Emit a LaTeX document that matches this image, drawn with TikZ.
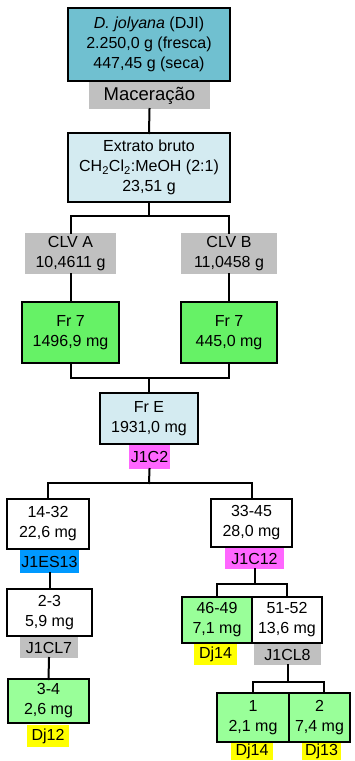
\documentclass[tikz,border=0pt]{standalone}
\usepackage{fontspec}
\setmainfont{Liberation Sans}
\definecolor{cteal}{RGB}{112,192,208}
\definecolor{clblue}{RGB}{212,235,241}
\definecolor{cgreen}{RGB}{102,242,102}
\definecolor{clgreen}{RGB}{153,255,153}
\definecolor{cgrey}{RGB}{192,192,192}
\definecolor{cmag}{RGB}{255,102,255}
\definecolor{cblue}{RGB}{0,153,255}
\definecolor{cyel}{RGB}{255,255,0}
\tikzset{
  base/.style={inner sep=0pt, outer sep=0pt, align=center, font=\fontsize{16}{20}\selectfont},
  box/.style={base, draw=black, line width=2pt},
  tag/.style={base},
  conn/.style={line width=2pt, line cap=rect},
}
% \bx{style}{name}{x1}{y1}{x2}{y2}{text}
\newcommand{\bx}[7]{%
  \pgfmathsetmacro{\bw}{#5-#3}\pgfmathsetmacro{\bh}{#6-#4}%
  \node[#1, minimum width=\bw pt, minimum height=\bh pt] (#2) at ({(#3+#5)/2},{(#4+#6)/2}) {#7};}
\begin{document}
\begin{tikzpicture}[x=1pt,y=-1pt]
\useasboundingbox (0,0) rectangle (354,761);
% nodes
\bx{box,fill=cteal}{top}{68}{8}{230}{81}{\textit{D. jolyana} (DJI)\\2.250,0 g (fresca)\\447,45 g (seca)}
\bx{tag,fill=cgrey,font=\fontsize{18.5}{22}\selectfont}{mac}{89}{82}{210}{109}{Maceração}
\bx{box,fill=clblue}{ext}{68}{133}{230}{202}{Extrato bruto\\CH\textsubscript{2}Cl\textsubscript{2}:MeOH (2:1)\\23,51 g}
\bx{tag,fill=cgrey}{clva}{25}{233}{116}{274}{CLV A\\10,4611 g}
\bx{tag,fill=cgrey}{clvb}{181}{233}{277}{274}{CLV B\\11,0458 g}
\bx{box,fill=cgreen}{fra}{22}{302}{119}{363}{Fr 7\\1496,9 mg}
\bx{box,fill=cgreen}{frb}{181}{302}{277}{363}{Fr 7\\445,0 mg}
\bx{box,fill=clblue}{fre}{100}{393}{198}{444}{Fr E\\1931,0 mg}
\bx{tag,fill=cmag}{j1c2}{129}{445}{170}{469}{J1C2}
\bx{box,fill=white}{n1432}{7}{499}{89}{549}{14-32\\22,6 mg}
\bx{tag,fill=cblue}{j1es13}{20}{550}{79}{573}{J1ES13}
\bx{box,fill=white}{n3345}{211}{499}{292}{547}{33-45\\28,0 mg}
\bx{tag,fill=cmag}{j1c12}{225}{548}{284}{569}{J1C12}
\bx{box,fill=white}{n23}{7}{589}{92}{636}{2-3\\5,9 mg}
\bx{tag,fill=cgrey}{j1cl7}{20}{637}{78}{658}{J1CL7}
\bx{box,fill=clgreen}{n34}{8}{679}{89}{723}{3-4\\2,6 mg}
\bx{tag,fill=cyel}{dj12}{27}{725}{69}{747}{Dj12}
\bx{box,fill=clgreen}{n4649}{182}{597}{252}{643}{46-49\\7,1 mg}
\bx{box,fill=white}{n5152}{252}{597}{322}{643}{51-52\\13,6 mg}
\bx{tag,fill=cyel}{dj14a}{194}{644}{237}{665}{Dj14}
\bx{tag,fill=cgrey}{j1cl8}{254}{644}{321}{665}{J1CL8}
\bx{box,fill=clgreen}{n1}{217}{693}{289}{742}{1\\2,1 mg}
\bx{box,fill=clgreen}{n2}{289}{693}{350}{742}{2\\7,4 mg}
\bx{tag,fill=cyel}{dj14b}{231}{743}{273}{760}{Dj14}
\bx{tag,fill=cyel}{dj13}{302}{743}{341}{760}{Dj13}
% connectors
\coordinate (s1) at (149,216);
\coordinate (s2) at (149,378);
\coordinate (s3) at (149,483);
\coordinate (s4) at (254.5,584);
\coordinate (s5) at (287.5,682);
\draw[conn] (mac.south) -- (ext.north);
\draw[conn] (ext.south) -- (s1);
\draw[conn] (clva.north) |- (s1) -| (clvb.north);
\draw[conn] (clva.south) -- (fra.north);
\draw[conn] (clvb.south) -- (frb.north);
\draw[conn] (fra.south) |- (s2) -| (frb.south);
\draw[conn] (s2) -- (fre.north);
\draw[conn] (j1c2.south) -- (s3);
\draw[conn] (n1432.north) |- (s3) -| (n3345.north);
\draw[conn] (j1es13.south) -- (n23.north);
\draw[conn] (j1cl7.south) -- (n34.north);
\draw[conn] (j1c12.south) -- (s4);
\draw[conn] (n4649.north) |- (s4) -| (n5152.north);
\draw[conn] (j1cl8.south) -- (s5);
\draw[conn] (n1.north) |- (s5) -| ([xshift=4.5pt]n2.north);
\end{tikzpicture}
\end{document}
